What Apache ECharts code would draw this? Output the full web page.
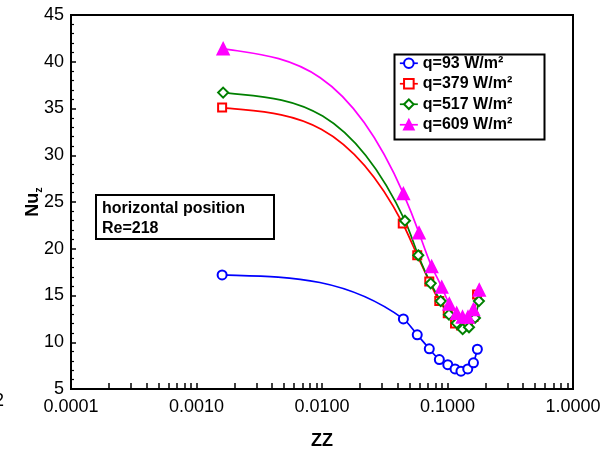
<!DOCTYPE html>
<html><head><meta charset="utf-8">
<script src="https://cdn.jsdelivr.net/npm/echarts/dist/echarts.min.js"></script>
<style>html,body{margin:0;padding:0;background:#fff}#c{width:609px;height:455px}</style>
</head><body><div id="c"></div>
<script>
const seriesNames = ['q=93 W/m²', 'q=379 W/m²', 'q=517 W/m²', 'q=609 W/m²'];
const zzBlue = [0.0016, 0.0445, 0.0574, 0.0716, 0.0861, 0.1005, 0.1148, 0.128, 0.145, 0.161, 0.173];
const nuBlue = [17.2, 12.5, 10.8, 9.3, 8.15, 7.6, 7.15, 6.9, 7.15, 7.8, 9.25];
const zzRed = [0.0016, 0.0440, 0.0574, 0.0716, 0.086, 0.1005, 0.1148, 0.128, 0.145, 0.161, 0.172];
const nuRed = [35.1, 22.7, 19.3, 16.5, 14.4, 13.1, 12.0, 11.8, 12.0, 12.7, 15.1];
const zzGreen = [0.00163, 0.0458, 0.0585, 0.0735, 0.0883, 0.1028, 0.1184, 0.1321, 0.1484, 0.1656, 0.178];
const nuGreen = [36.7, 23.0, 19.3, 16.3, 14.4, 12.95, 12.05, 11.4, 11.6, 12.6, 14.4];
const zzMag = [0.00163, 0.0445, 0.0593, 0.0748, 0.0899, 0.1033, 0.1184, 0.1318, 0.1457, 0.161, 0.179];
const nuMag = [41.4, 25.9, 21.7, 18.1, 15.9, 14.1, 13.1, 12.7, 12.7, 13.5, 15.6];
const xTickLabels = [0.0001, 0.001, 0.01, 0.1, 1];
const yTickLabels = [5, 10, 15, 20, 25, 30, 35, 40, 45];

const xTicks = [];
for (let k = -4; k < 0; k++) for (let m = 1; m <= 9; m++) xTicks.push(+(m * Math.pow(10, k)).toPrecision(6));
xTicks.push(1);

const FONT = "'Liberation Sans', Arial, sans-serif";
const colors = ['#0000ff', '#ff0000', '#008000', '#ff00ff'];
const symbols = ['emptyCircle', 'emptyRect', 'emptyDiamond', 'triangle'];
const symSizes = [9, 8, 10, 12];
const sets = [[zzBlue, nuBlue], [zzRed, nuRed], [zzGreen, nuGreen], [zzMag, nuMag]];

// Smooth curve through the points (screen space): cubic spline slopes, then a monotonicity limiter.
function splinePathData(pts) {
  const n = pts.length, X = pts.map(p => p[0]), Y = pts.map(p => p[1]);
  const h = [], sec = [];
  for (let i = 0; i < n - 1; i++) { h.push(X[i + 1] - X[i]); sec.push((Y[i + 1] - Y[i]) / h[i]); }
  const s0 = 0.2 * sec[0];
  const A = new Array(n).fill(0), B = new Array(n).fill(0), C = new Array(n).fill(0), D = new Array(n).fill(0);
  B[0] = 2 * h[0]; C[0] = h[0]; D[0] = 6 * (sec[0] - s0);
  for (let i = 1; i < n - 1; i++) {
    A[i] = h[i - 1]; B[i] = 2 * (h[i - 1] + h[i]); C[i] = h[i];
    D[i] = 6 * (sec[i] - sec[i - 1]);
  }
  B[n - 1] = 1; D[n - 1] = 0;
  for (let i = 1; i < n; i++) { const w = A[i] / B[i - 1]; B[i] -= w * C[i - 1]; D[i] -= w * D[i - 1]; }
  const M = new Array(n);
  M[n - 1] = D[n - 1] / B[n - 1];
  for (let i = n - 2; i >= 0; i--) M[i] = (D[i] - C[i] * M[i + 1]) / B[i];
  const S = new Array(n);
  for (let i = 0; i < n - 1; i++) S[i] = sec[i] - h[i] * (2 * M[i] + M[i + 1]) / 6;
  S[n - 1] = sec[n - 2] + h[n - 2] * (M[n - 2] + 2 * M[n - 1]) / 6;
  for (let i = 0; i < n - 1; i++) {
    const m = sec[i];
    if (Math.abs(m) < 1e-9) { S[i] = 0; S[i + 1] = 0; continue; }
    let a = S[i] / m, b = S[i + 1] / m;
    if (a < 0) { S[i] = 0; a = 0; }
    if (b < 0) { S[i + 1] = 0; b = 0; }
    const r = a * a + b * b;
    if (r > 9) { const t = 3 / Math.sqrt(r); S[i] = t * a * m; S[i + 1] = t * b * m; }
  }
  let d = 'M' + X[0] + ' ' + Y[0];
  for (let i = 0; i < n - 1; i++) {
    const hh = h[i];
    d += ' C' + (X[i] + hh / 3) + ' ' + (Y[i] + S[i] * hh / 3) + ' ' + (X[i + 1] - hh / 3) + ' ' + (Y[i + 1] - S[i + 1] * hh / 3) + ' ' + X[i + 1] + ' ' + Y[i + 1];
  }
  return d;
}

const series = [];
sets.forEach((s, k) => {
  const [xs, ys] = s;
  series.push({
    type: 'custom', name: 'curve' + k, silent: true, z: 2,
    data: xs.map((x, i) => [x, ys[i]]),
    encode: { x: 0, y: 1 },
    renderItem: (params, api) => {
      if (params.dataIndex !== 0) return null;
      const pts = xs.map((x, i) => api.coord([x, ys[i]]));
      return { type: 'path', shape: { pathData: splinePathData(pts) },
        style: { fill: 'none', stroke: colors[k], lineWidth: 1.7 } };
    }
  });
});
sets.forEach((s, k) => {
  const [xs, ys] = s;
  series.push({
    type: 'line', name: seriesNames[k], z: 3,
    data: xs.map((x, i) => [x, ys[i]]),
    symbol: symbols[k], symbolSize: symSizes[k], showAllSymbol: true,
    color: colors[k],
    itemStyle: { color: colors[k], borderColor: colors[k], borderWidth: 1.5 },
    lineStyle: { color: colors[k], width: 1.7, opacity: 0 },
    emphasis: { disabled: true }
  });
});

const chart = echarts.init(document.getElementById('c'), null, { renderer: 'canvas' });
chart.setOption({
  animation: false,
  backgroundColor: '#fff',
  textStyle: { fontFamily: FONT },
  grid: { left: 71, right: 36, top: 15, bottom: 63, show: true, borderColor: '#000', borderWidth: 2, backgroundColor: 'transparent' },
  legend: {
    data: seriesNames, orient: 'vertical', left: 399, top: 53, padding: 0, itemGap: 0,
    itemWidth: 18, itemHeight: 12, selectedMode: false,
    lineStyle: { opacity: 1, width: 1.7 },
    textStyle: { fontFamily: FONT, fontSize: 16, fontWeight: 'bold', color: '#000', lineHeight: 20.5 }
  },
  xAxis: {
    type: 'log', logBase: 10, min: 0.0001, max: 1,
    name: 'ZZ', nameLocation: 'middle', nameGap: 43, nameMoveOverlap: false,
    nameTextStyle: { fontFamily: FONT, fontSize: 18, fontWeight: 'bold', color: '#000' },
    axisLine: { show: true, onZero: false, lineStyle: { color: '#000', width: 2 } },
    axisTick: { show: true, inside: true, length: 6, lineStyle: { color: '#000', width: 1.5 }, customValues: xTicks },
    axisLabel: { fontFamily: FONT, fontSize: 18, color: '#000', margin: 9, customValues: xTickLabels,
      formatter: v => Number(v).toFixed(4) },
    splitLine: { show: false }, minorTick: { show: false }
  },
  yAxis: [{
    type: 'value', min: 5, max: 45, interval: 5,
    name: '{a|Nu}{b|z}', nameLocation: 'middle', nameGap: 27, nameRotate: 90, nameMoveOverlap: false,
    nameTextStyle: { rich: {
      a: { fontFamily: FONT, fontSize: 18, fontWeight: 'bold', color: '#000', lineHeight: 22 },
      b: { fontFamily: FONT, fontSize: 11, fontWeight: 'bold', color: '#000', lineHeight: 10, verticalAlign: 'bottom' } } },
    axisLine: { show: true, onZero: false, lineStyle: { color: '#000', width: 2 } },
    axisTick: { show: true, inside: true, length: 5, lineStyle: { color: '#000', width: 1.5 } },
    minorTick: { show: true, splitNumber: 5, length: 3, lineStyle: { color: '#000', width: 1.2 } },
    axisLabel: { fontFamily: FONT, fontSize: 18, color: '#000', margin: 7, customValues: yTickLabels },
    splitLine: { show: false }
  }],
  graphic: [
    { type: 'rect', left: 392, top: 52, shape: { width: 150, height: 85 }, style: { fill: 'none', stroke: '#000', lineWidth: 2 }, z: 10 },
    { type: 'group', left: 95, top: 194, z: 10, children: [
      { type: 'rect', shape: { x: 0, y: 0, width: 178, height: 44 }, style: { fill: '#fff', stroke: '#000', lineWidth: 2 } },
      { type: 'text', x: 6, y: 4, style: { text: 'horizontal position\nRe=218', font: 'bold 16px ' + FONT, fill: '#000', lineHeight: 20 } }
    ] },
    { type: 'text', left: -6, top: 392, style: { text: '2', font: '18px ' + FONT, fill: '#000' } }
  ],
  series: series
});
</script></body></html>
